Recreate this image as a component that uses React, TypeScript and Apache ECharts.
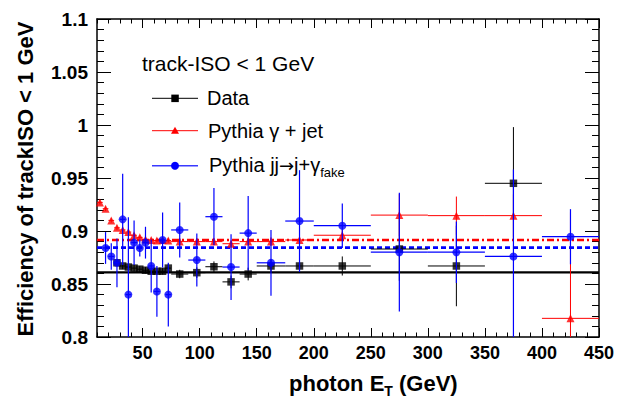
import React, { useEffect, useRef } from 'react';
import * as echarts from 'echarts';

// ---------- data ----------
const dataX = [27.5, 32.5, 37.5, 42.5, 47.5, 52.5, 57.5, 62.5, 67.5, 72.5, 82.5, 97.5, 112.5, 127.5, 142.5, 162.5, 187.5, 225, 275, 325, 375];
const dataXErr = [2.5, 2.5, 2.5, 2.5, 2.5, 2.5, 2.5, 2.5, 2.5, 2.5, 7.5, 7.5, 7.5, 7.5, 7.5, 12.5, 12.5, 25, 25, 25, 25];
const dataY = [0.870, 0.867, 0.866, 0.865, 0.864, 0.863, 0.862, 0.862, 0.862, 0.865, 0.8594, 0.8607, 0.8663, 0.852, 0.8594, 0.867, 0.867, 0.867, 0.883, 0.867, 0.945];
const dataYErr = [0.003, 0.003, 0.003, 0.003, 0.003, 0.003, 0.003, 0.003, 0.003, 0.004, 0.004, 0.005, 0.005, 0.006, 0.006, 0.006, 0.006, 0.009, 0.03, 0.038, 0.053];

const sigX = [12.5, 17.5, 22.5, 27.5, 32.5, 37.5, 42.5, 47.5, 52.5, 57.5, 62.5, 67.5, 72.5, 82.5, 97.5, 112.5, 127.5, 142.5, 162.5, 187.5, 225, 275, 325, 375, 425];
const sigXErr = [2.5, 2.5, 2.5, 2.5, 2.5, 2.5, 2.5, 2.5, 2.5, 2.5, 2.5, 2.5, 2.5, 7.5, 7.5, 7.5, 7.5, 7.5, 12.5, 12.5, 25, 25, 25, 25, 25];
const sigY = [0.927, 0.921, 0.910, 0.903, 0.901, 0.899, 0.896, 0.894, 0.892, 0.8915, 0.891, 0.8915, 0.891, 0.890, 0.890, 0.890, 0.888, 0.890, 0.890, 0.8915, 0.896, 0.915, 0.9145, 0.9145, 0.8176];
const sigYErr = [0.002, 0.002, 0.002, 0.002, 0.002, 0.002, 0.002, 0.002, 0.002, 0.002, 0.002, 0.002, 0.002, 0.003, 0.003, 0.003, 0.003, 0.003, 0.004, 0.004, 0.005, 0.02, 0.018, 0.02, 0.10];

const fakeX = [17.5, 22.5, 27.5, 32.5, 37.5, 42.5, 47.5, 52.5, 57.5, 62.5, 67.5, 72.5, 82.5, 97.5, 112.5, 127.5, 142.5, 162.5, 187.5, 225, 275, 325, 375, 425];
const fakeXErr = [2.5, 2.5, 2.5, 2.5, 2.5, 2.5, 2.5, 2.5, 2.5, 2.5, 2.5, 2.5, 7.5, 7.5, 7.5, 7.5, 7.5, 12.5, 12.5, 25, 25, 25, 25, 25];
const fakeY = [0.884, 0.876, 0.870, 0.911, 0.840, 0.889, 0.884, 0.889, 0.867, 0.843, 0.8915, 0.840, 0.901, 0.8726, 0.9135, 0.866, 0.898, 0.870, 0.9094, 0.905, 0.880, 0.880, 0.876, 0.8946];
const fakeYErr = [0.015, 0.0125, 0.023, 0.043, 0.073, 0.021, 0.008, 0.015, 0.025, 0.024, 0.026, 0.03, 0.026, 0.025, 0.027, 0.031, 0.035, 0.031, 0.048, 0.021, 0.056, 0.029, 0.082, 0.026];

const fitX = [10, 450];
const dataFit = [0.861, 0.861];
const sigFit = [0.8915, 0.8915];
const fakeFit = [0.8843, 0.8843];

const xMajorTicks = [50, 100, 150, 200, 250, 300, 350, 400, 450];
const xMinorTicks = [10, 20, 30, 40, 60, 70, 80, 90, 110, 120, 130, 140, 160, 170, 180, 190, 210, 220, 230, 240, 260, 270, 280, 290, 310, 320, 330, 340, 360, 370, 380, 390, 410, 420, 430, 440];

const FONT = '"Liberation Sans", Arial, Helvetica, sans-serif';

function errRender(color: string, lw: number) {
  return (params: any, api: any) => {
    const cs = params.coordSys;
    const x = api.value(0), y = api.value(1), xe = api.value(2), ye = api.value(3);
    const cy = (v: number) => Math.max(cs.y, Math.min(cs.y + cs.height, v));
    const cx = (v: number) => Math.max(cs.x, Math.min(cs.x + cs.width, v));
    const c = api.coord([x, y]);
    const l = api.coord([x - xe, y]);
    const r = api.coord([x + xe, y]);
    const t = api.coord([x, y + ye]);
    const b = api.coord([x, y - ye]);
    return {
      type: 'group',
      children: [
        { type: 'line', shape: { x1: cx(l[0]), y1: c[1], x2: cx(r[0]), y2: c[1] }, style: { stroke: color, lineWidth: lw } },
        { type: 'line', shape: { x1: c[0], y1: cy(t[1]), x2: c[0], y2: cy(b[1]) }, style: { stroke: color, lineWidth: lw } },
      ],
    };
  };
}

function zip4(a: number[], b: number[], c: number[], d: number[]) {
  return a.map((v, i) => [v, b[i], c[i], d[i]]);
}

function xAxisDef(pos: string, ticks: number[], len: number, line: boolean, label: boolean) {
  return {
    type: 'value',
    position: pos,
    min: 10,
    max: 450,
    axisLine: { show: line, onZero: false, lineStyle: { color: '#000', width: 1.5 } },
    axisTick: { show: true, inside: true, length: len, customValues: ticks, lineStyle: { color: '#000', width: 1 } },
    axisLabel: label
      ? { show: true, customValues: xMajorTicks, color: '#000', fontFamily: FONT, fontWeight: 'bold', fontSize: 18, margin: 7 }
      : { show: false },
    splitLine: { show: false },
  };
}

function yAxisDef(pos: string, label: boolean) {
  return {
    type: 'value',
    position: pos,
    min: 0.8,
    max: 1.1,
    interval: 0.05,
    axisLine: { show: true, onZero: false, lineStyle: { color: '#000', width: 1.5 } },
    axisTick: { show: true, inside: true, length: 14, lineStyle: { color: '#000', width: 1 } },
    minorTick: { show: true, splitNumber: 5, length: 7, lineStyle: { color: '#000', width: 1 } },
    axisLabel: label
      ? { show: true, color: '#000', fontFamily: FONT, fontWeight: 'bold', fontSize: 19, margin: 9 }
      : { show: false },
    splitLine: { show: false },
    minorSplitLine: { show: false },
  };
}

export default function App() {
  const ref = useRef<HTMLDivElement>(null);
  useEffect(() => {
    if (!ref.current) return;
    const chart = echarts.init(ref.current, undefined, { renderer: 'svg' });
    const option: any = {
      animation: false,
      backgroundColor: '#fff',
      grid: { left: 97, right: 32, top: 19, bottom: 62, containLabel: false, outerBoundsMode: 'none' },
      xAxis: [
        xAxisDef('bottom', xMajorTicks, 9, true, true),
        xAxisDef('bottom', xMinorTicks, 4.5, false, false),
        xAxisDef('top', xMajorTicks, 9, true, false),
        xAxisDef('top', xMinorTicks, 4.5, false, false),
      ],
      yAxis: [yAxisDef('left', true), yAxisDef('right', false)],
      series: [
        {
          type: 'line', data: fitX.map((x, i) => [x, dataFit[i]]), symbol: 'none',
          lineStyle: { color: '#000', width: 2.2 }, silent: true, z: 1,
        },
        {
          type: 'line', data: fitX.map((x, i) => [x, sigFit[i]]), symbol: 'none',
          lineStyle: { color: '#ff0000', width: 2.5, type: [7, 3, 2, 3] }, silent: true, z: 1,
        },
        {
          type: 'line', data: fitX.map((x, i) => [x, fakeFit[i]]), symbol: 'none',
          lineStyle: { color: '#0000ff', width: 2.8, type: [5, 3] }, silent: true, z: 1,
        },
        {
          type: 'custom', renderItem: errRender('#000', 1), data: zip4(dataX, dataY, dataXErr, dataYErr),
          encode: { x: 0, y: 1 }, z: 2,
        },
        {
          type: 'scatter', data: dataX.map((x, i) => [x, dataY[i]]), symbol: 'rect', symbolSize: 7.5,
          itemStyle: { color: '#000' }, z: 3,
        },
        {
          type: 'custom', renderItem: errRender('#ff0000', 1), data: zip4(sigX, sigY, sigXErr, sigYErr),
          encode: { x: 0, y: 1 }, z: 4,
        },
        {
          type: 'scatter', data: sigX.map((x, i) => [x, sigY[i]]), symbol: 'triangle', symbolSize: 8,
          itemStyle: { color: '#ff0000' }, z: 5,
        },
        {
          type: 'custom', renderItem: errRender('#0000ff', 1.2), data: zip4(fakeX, fakeY, fakeXErr, fakeYErr),
          encode: { x: 0, y: 1 }, z: 6,
        },
        {
          type: 'scatter', data: fakeX.map((x, i) => [x, fakeY[i]]), symbol: 'circle', symbolSize: 8,
          itemStyle: { color: '#0000ff' }, z: 7,
        },
      ],
      graphic: [
        // y-axis title
        {
          type: 'text', x: 25, y: 179, rotation: Math.PI / 2,
          style: { text: 'Efficiency of trackISO < 1 GeV', fontFamily: FONT, fontWeight: 'bold', fontSize: 22, fill: '#000', align: 'center', verticalAlign: 'middle' },
        },
        // x-axis title
        {
          type: 'text', x: 289, y: 368,
          style: {
            text: '{a|photon E}{s|T}{a| (GeV)}', align: 'left', verticalAlign: 'top', fill: '#000',
            rich: {
              a: { fontFamily: FONT, fontWeight: 'bold', fontSize: 22, lineHeight: 30, verticalAlign: 'middle', color: '#000' },
              s: { fontFamily: FONT, fontWeight: 'bold', fontSize: 14, lineHeight: 14, verticalAlign: 'bottom', color: '#000' },
            },
          },
        },
        // legend header
        {
          type: 'text', x: 142, y: 63,
          style: { text: 'track-ISO < 1 GeV', fontFamily: FONT, fontSize: 21, fill: '#000', align: 'left', verticalAlign: 'middle' },
        },
        // Data entry
        { type: 'line', shape: { x1: 152, y1: 98.3, x2: 198, y2: 98.3 }, style: { stroke: '#000', lineWidth: 1 } },
        { type: 'rect', shape: { x: 171.3, y: 94.6, width: 7.5, height: 7.5 }, style: { fill: '#000' } },
        {
          type: 'text', x: 207, y: 98.3,
          style: { text: 'Data', fontFamily: FONT, fontSize: 20, fill: '#000', align: 'left', verticalAlign: 'middle' },
        },
        // Pythia gamma + jet entry
        { type: 'line', shape: { x1: 152, y1: 130.7, x2: 198, y2: 130.7 }, style: { stroke: '#ff0000', lineWidth: 1 } },
        { type: 'polygon', shape: { points: [[175, 126.7], [171, 133.7], [179, 133.7]] }, style: { fill: '#ff0000' } },
        {
          type: 'text', x: 208, y: 130.7,
          style: { text: 'Pythia γ + jet', fontFamily: FONT, fontSize: 20, fill: '#000', align: 'left', verticalAlign: 'middle' },
        },
        // Pythia jj -> j + gamma_fake entry
        { type: 'line', shape: { x1: 152, y1: 165.7, x2: 198, y2: 165.7 }, style: { stroke: '#3a3aff', lineWidth: 1.5 } },
        { type: 'circle', shape: { cx: 175, cy: 165.7, r: 4 }, style: { fill: '#0000ff' } },
        {
          type: 'text', x: 209, y: 151,
          style: {
            text: '{a|Pythia jj}{r|→}{a|j+γ}{s|fake}', align: 'left', verticalAlign: 'top', fill: '#000',
            rich: {
              a: { fontFamily: FONT, fontSize: 20, lineHeight: 28, verticalAlign: 'middle', color: '#000' },
              r: { fontFamily: '"DejaVu Sans"', fontSize: 18, lineHeight: 28, verticalAlign: 'middle', color: '#000' },
              s: { fontFamily: FONT, fontSize: 13, lineHeight: 12, verticalAlign: 'bottom', color: '#000' },
            },
          },
        },
      ],
    };
    chart.setOption(option);
    return () => chart.dispose();
  }, []);
  return (
    <div
      ref={ref}
      style={{ position: 'fixed', left: 0, top: 0, width: 631, height: 399, background: '#fff' }}
    />
  );
}
